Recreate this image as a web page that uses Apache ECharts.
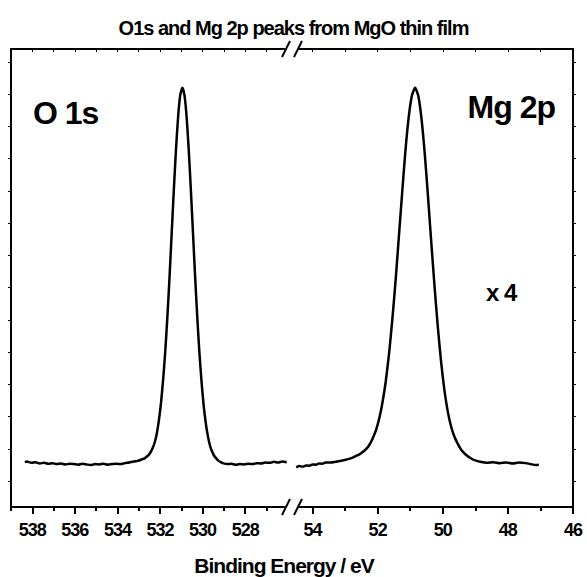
<!DOCTYPE html>
<html>
<head>
<meta charset="utf-8">
<script src="https://cdn.jsdelivr.net/npm/echarts@6/dist/echarts.min.js"></script>
<style>
  html, body { margin: 0; padding: 0; background: #fff; }
  #chart { width: 587px; height: 577px; }
  /* tight Origin-style lettering */
  #chart svg text { letter-spacing: -1px; }
</style>
</head>
<body>
<div id="chart"></div>
<script>
// O 1s region (binding energy in eV, intensity in arbitrary units)
const o1sEnergy = [
  538.35, 538.25, 538.05, 537.85, 537.65, 537.45, 537.25, 537.05, 536.85, 536.65,
  536.45, 536.25, 536.05, 535.85, 535.65, 535.45, 535.25, 535.05, 534.85, 534.65,
  534.45, 534.25, 534.05, 533.85, 533.65, 533.45, 533.25, 533.05, 532.95, 532.85,
  532.75, 532.65, 532.55, 532.45, 532.35, 532.25, 532.15, 532.05, 531.95, 531.85,
  531.75, 531.65, 531.55, 531.45, 531.35, 531.25, 531.15, 531.05, 530.95, 530.85,
  530.75, 530.65, 530.55, 530.45, 530.35, 530.25, 530.15, 530.05, 529.95, 529.85,
  529.75, 529.65, 529.55, 529.45, 529.35, 529.25, 529.15, 529.05, 528.85, 528.65,
  528.45, 528.25, 528.05, 527.85, 527.65, 527.45, 527.25, 527.05, 526.85, 526.65,
  526.45, 526.25, 526.05
];
const o1sCounts = [
  5.9, 6.1, 5.7, 5.9, 5.5, 5.7, 5.4, 5.6, 5.3, 5.5,
  5.2, 5.4, 5.3, 5.1, 5.4, 5.2, 5.0, 5.3, 5.2, 5.4,
  5.1, 5.3, 5.4, 5.3, 5.6, 5.8, 6.1, 6.3, 6.5, 6.8,
  7.0, 7.5, 8.0, 8.9, 10.2, 12.0, 14.8, 19.0, 24.5, 31.8,
  40.6, 51.4, 63.7, 77.1, 90.5, 102.8, 113.0, 119.7, 122.0, 119.6,
  112.9, 102.6, 90.2, 76.8, 63.3, 50.9, 39.9, 30.9, 23.5, 18.0,
  13.9, 11.0, 9.1, 7.8, 7.0, 6.3, 5.9, 5.6, 5.3, 5.4,
  5.1, 5.3, 5.2, 5.4, 5.3, 5.6, 5.5, 5.8, 5.7, 6.0,
  5.8, 6.1, 5.9
];

// Mg 2p region (recorded x4)
const mg2pEnergy = [
  54.5, 54.4, 54.3, 54.2, 54.1, 54.0, 53.9, 53.8, 53.7, 53.6,
  53.45, 53.25, 53.05, 52.85, 52.75, 52.65, 52.55, 52.45, 52.35, 52.25,
  52.15, 52.05, 51.95, 51.85, 51.75, 51.65, 51.55, 51.45, 51.35, 51.25,
  51.15, 51.05, 50.95, 50.85, 50.75, 50.65, 50.55, 50.45, 50.35, 50.25,
  50.15, 50.05, 49.95, 49.85, 49.75, 49.65, 49.55, 49.45, 49.35, 49.25,
  49.15, 49.05, 48.95, 48.85, 48.65, 48.45, 48.25, 48.05, 47.85, 47.65,
  47.45, 47.3, 47.15, 47.05
];
const mg2pCounts = [
  4.3, 4.7, 4.5, 4.9, 4.8, 5.2, 5.1, 5.5, 5.4, 5.8,
  5.8, 6.1, 6.5, 7.0, 7.4, 7.9, 8.4, 9.1, 10.0, 11.3,
  13.3, 15.8, 19.5, 24.5, 31.0, 39.5, 50.0, 62.0, 75.5, 89.0,
  102.0, 112.5, 119.4, 122.0, 119.4, 112.1, 101.2, 87.8, 73.7, 60.1,
  47.6, 36.9, 28.3, 21.8, 17.2, 14.0, 11.8, 10.0, 8.8, 7.9,
  7.2, 6.6, 6.3, 6.0, 5.7, 5.9, 5.6, 5.8, 5.5, 5.8,
  5.6, 5.3, 5.0, 5.1
];

// Tick positions on the two halves of the broken energy axis
const leftMajorTicks = [538, 536, 534, 532, 530, 528];
const leftMinorTicks = [539, 537, 535, 533, 531, 529, 527];
const rightMajorTicks = [54, 52, 50, 48, 46];
const rightMinorTicks = [53, 51, 49, 47];
const intensityTicks = [0, 10, 20, 30, 40, 50, 60, 70, 80, 90, 100, 110, 120, 130];

const titleText = 'O1s and Mg 2p peaks from MgO thin film';
const axisTitle = 'Binding Energy / eV';
const peakLabels = ['O 1s', 'Mg 2p'];
const scaleNote = 'x 4';

const FONT = "'Liberation Sans', Arial, Helvetica, sans-serif";

// Frame geometry
const frameLeft = 11, frameRight = 573, frameTop = 49, frameBottom = 507;
const breakX = 292;
const W = 587, H = 577;

const leftRange = { min: 525.8, max: 539 };
const rightRange = { min: 46, max: 54.63 };
const yRange = { min: -8, max: 134 };

function zip(xs, ys) { return xs.map((x, i) => [x, ys[i]]); }

function frameLine(show) {
  return { show, onZero: false, lineStyle: { color: '#000', width: 2 } };
}

function bottomMajor(gridIndex, range, ticks) {
  return {
    type: 'value', gridIndex, position: 'bottom', inverse: true,
    min: range.min, max: range.max,
    axisLine: frameLine(true),
    axisTick: { show: true, inside: false, length: 7, customValues: ticks,
      lineStyle: { color: '#000', width: 2 } },
    axisLabel: { show: true, customValues: ticks, margin: 14, color: '#000',
      fontFamily: FONT, fontWeight: 'bold', fontSize: 18 },
    splitLine: { show: false }
  };
}
function bottomMinor(gridIndex, range, ticks) {
  return {
    type: 'value', gridIndex, position: 'bottom', inverse: true,
    min: range.min, max: range.max,
    axisLine: frameLine(false),
    axisTick: { show: true, inside: false, length: 4, customValues: ticks,
      lineStyle: { color: '#000', width: 2 } },
    axisLabel: { show: false },
    splitLine: { show: false }
  };
}
function topAxis(gridIndex, range, ticks) {
  return {
    type: 'value', gridIndex, position: 'top', inverse: true,
    min: range.min, max: range.max,
    axisLine: frameLine(true),
    axisTick: { show: true, inside: true, length: 3, customValues: ticks,
      lineStyle: { color: '#000', width: 1 } },
    axisLabel: { show: false },
    splitLine: { show: false }
  };
}
function sideAxis(gridIndex, position) {
  return {
    type: 'value', gridIndex, position,
    min: yRange.min, max: yRange.max,
    axisLine: frameLine(true),
    axisTick: { show: true, inside: false, length: 3, customValues: intensityTicks,
      lineStyle: { color: '#000', width: 1 } },
    axisLabel: { show: false },
    splitLine: { show: false }
  };
}

// Break marks "//" on the top and bottom frame lines
function breakMark(y) {
  const items = [];
  items.push({ type: 'rect', shape: { x: breakX - 7, y: y - 2, width: 14, height: 4 },
    style: { fill: '#fff' }, z: 100 });
  [-6, 6].forEach(dx => {
    items.push({ type: 'line',
      shape: { x1: breakX + dx - 4, y1: y + 8, x2: breakX + dx + 4, y2: y - 8 },
      style: { stroke: '#000', lineWidth: 2 }, z: 101 });
  });
  return items;
}

const leftAllTicks = leftMajorTicks.concat(leftMinorTicks);
const rightAllTicks = rightMajorTicks.concat(rightMinorTicks);

const option = {
  backgroundColor: '#fff',
  animation: false,
  title: {
    text: titleText, left: 'center', top: 13,
    textStyle: { fontFamily: FONT, fontWeight: 'bold', fontSize: 20, color: '#000' }
  },
  grid: [
    { left: frameLeft, top: frameTop, width: breakX - frameLeft, height: frameBottom - frameTop },
    { left: breakX, top: frameTop, width: frameRight - breakX, height: frameBottom - frameTop }
  ],
  xAxis: [
    bottomMajor(0, leftRange, leftMajorTicks),
    bottomMinor(0, leftRange, leftMinorTicks),
    topAxis(0, leftRange, leftAllTicks),
    bottomMajor(1, rightRange, rightMajorTicks),
    bottomMinor(1, rightRange, rightMinorTicks),
    topAxis(1, rightRange, rightAllTicks)
  ],
  yAxis: [sideAxis(0, 'left'), sideAxis(1, 'right')],
  series: [
    { name: 'O 1s', type: 'line', xAxisIndex: 0, yAxisIndex: 0,
      data: zip(o1sEnergy, o1sCounts), showSymbol: false, smooth: 0.2,
      lineStyle: { color: '#000', width: 2.5 }, z: 5 },
    { name: 'Mg 2p', type: 'line', xAxisIndex: 3, yAxisIndex: 1,
      data: zip(mg2pEnergy, mg2pCounts), showSymbol: false, smooth: 0.2,
      lineStyle: { color: '#000', width: 2.5 }, z: 5 }
  ],
  graphic: [
    ...breakMark(frameTop),
    ...breakMark(frameBottom),
    { type: 'text', left: 33, top: 97,
      style: { text: peakLabels[0], fill: '#000', font: `bold 32px ${FONT}` } },
    { type: 'text', right: W - 560, top: 91,
      style: { text: peakLabels[1], fill: '#000', font: `bold 32px ${FONT}` } },
    { type: 'text', left: 486, top: 280,
      style: { text: scaleNote, fill: '#000', font: `bold 24px ${FONT}` } },
    { type: 'text', left: 'center', top: 555,
      style: { text: axisTitle, fill: '#000', font: `bold 21px ${FONT}`, align: 'center' } }
  ]
};

const chart = echarts.init(document.getElementById('chart'), null, { renderer: 'svg' });
chart.setOption(option);
</script>
</body>
</html>
